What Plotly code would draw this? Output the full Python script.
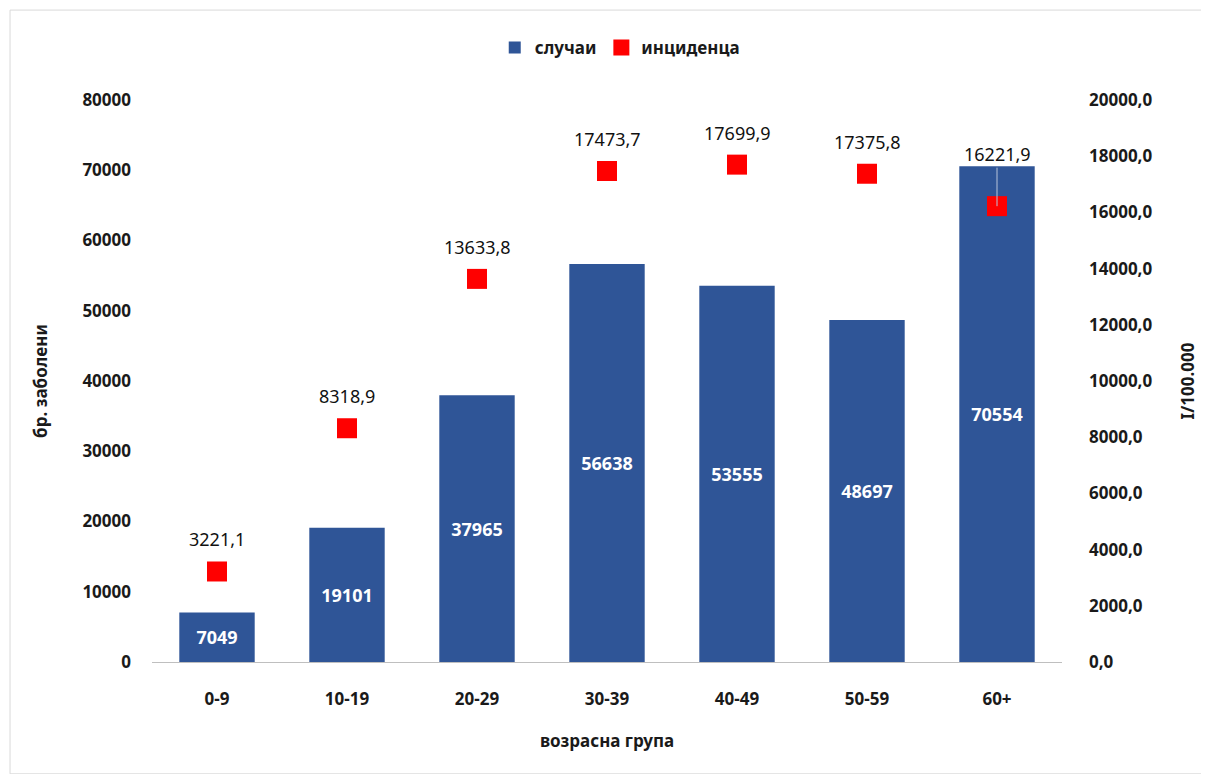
import plotly.graph_objects as go

categories = ["0-9", "10-19", "20-29", "30-39", "40-49", "50-59", "60+"]
cases = [7049, 19101, 37965, 56638, 53555, 48697, 70554]
incidence = [3221.1, 8318.9, 13633.8, 17473.7, 17699.9, 17375.8, 16221.9]
left_ticks = [0, 10000, 20000, 30000, 40000, 50000, 60000, 70000, 80000]
right_ticks = [0, 2000, 4000, 6000, 8000, 10000, 12000, 14000, 16000, 18000, 20000]

FONT = "Noto Sans"
BLUE = "#2F5597"
RED = "#FF0000"
TXT = "#1a1a1a"

def fmt_comma(v):
    return f"{v:.1f}".replace(".", ",")

fig = go.Figure()
fig.add_trace(go.Bar(
    x=categories, y=cases, name="случаи",
    marker=dict(color=BLUE, line=dict(width=0)),
    width=0.58,
    text=[str(v) for v in cases], textposition="inside",
    insidetextanchor="middle",
    textfont=dict(family=FONT, size=18, color="white", weight="bold"),
    yaxis="y",
))
fig.add_trace(go.Scatter(
    x=categories, y=incidence, name="инциденца", mode="markers",
    marker=dict(symbol="square", size=20, color=RED),
    yaxis="y2",
))

annotations = []
for i, (c, v) in enumerate(zip(categories, incidence)):
    last = i == len(categories) - 1
    annotations.append(dict(
        x=c, y=v, xref="x", yref="y2", text=fmt_comma(v),
        showarrow=last, ax=0, ay=-52 if last else 0,
        arrowhead=0, arrowwidth=1, arrowcolor="#b8c4da", standoff=0,
        yshift=0 if last else 32,
        font=dict(family=FONT, size=18, color="#111111"),
    ))

fig.update_layout(
    width=1209, height=774,
    paper_bgcolor="white", plot_bgcolor="white",
    margin=dict(l=144, r=155, t=92, b=120),
    font=dict(family=FONT, size=17, color=TXT),
    showlegend=True,
    legend=dict(orientation="h", x=0.514, xanchor="center", y=1.0925, yanchor="middle",
                font=dict(family=FONT, size=17, color=TXT, weight="bold"),
                itemwidth=30, tracegroupgap=0),
    xaxis=dict(
        showline=True, linecolor="#bfbfbf", linewidth=1, ticks="",
        showgrid=False,
        ticklabelstandoff=22,
        tickfont=dict(family=FONT, size=17, color=TXT, weight="bold"),
        title=dict(text="возрасна група", standoff=25,
                   font=dict(family=FONT, size=17, color=TXT, weight="bold")),
    ),
    yaxis=dict(
        range=[0, 80000], tickvals=left_ticks, ticktext=[str(t) for t in left_ticks],
        showgrid=False, zeroline=False, showline=False, ticks="",
        ticklabelstandoff=20,
        tickfont=dict(family=FONT, size=17, color=TXT, weight="bold"),
        title=dict(text="бр. заболени", standoff=30,
                   font=dict(family=FONT, size=17, color=TXT, weight="bold")),
    ),
    yaxis2=dict(
        range=[0, 20000], overlaying="y", side="right",
        tickvals=right_ticks, ticktext=[fmt_comma(t) for t in right_ticks],
        showgrid=False, zeroline=False, showline=False, ticks="",
        ticklabelstandoff=26,
        tickfont=dict(family=FONT, size=17, color=TXT, weight="bold"),
        title=dict(text="I/100.000", standoff=30,
                   font=dict(family=FONT, size=17, color=TXT, weight="bold")),
    ),
    annotations=annotations,
    shapes=[
        dict(type="rect", xref="paper", yref="paper", x0=-0.156, x1=1.157, y0=-0.199, y1=1.160,
             line=dict(color="#d9d9d9", width=1), layer="below"),
    ],
)

fig.write_html("out.html")
